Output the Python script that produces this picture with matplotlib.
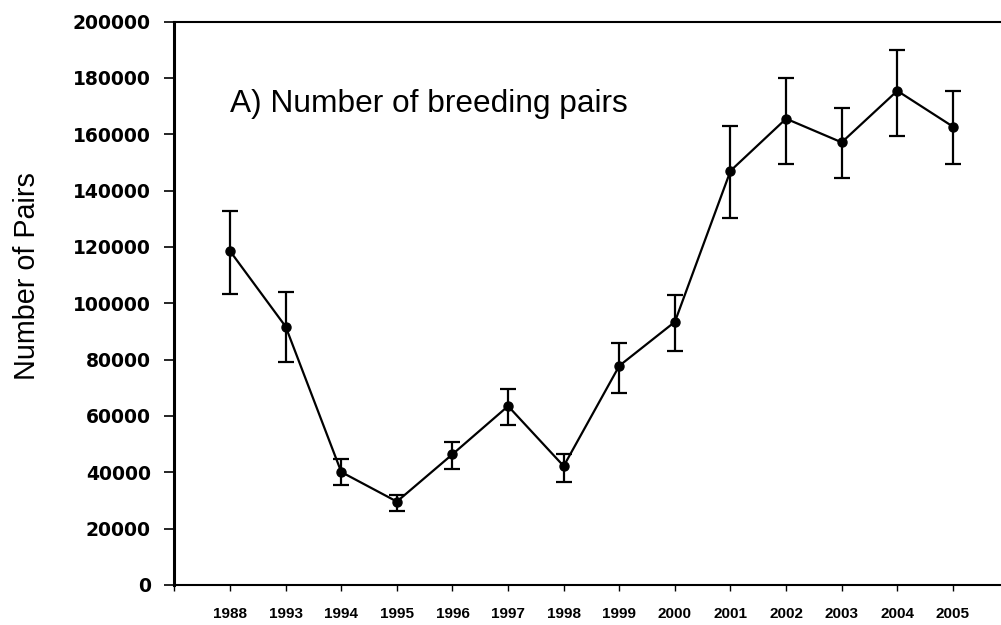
import matplotlib
matplotlib.use("Agg")
import matplotlib.pyplot as plt
import numpy as np

years = ["1988", "1993", "1994", "1995", "1996", "1997", "1998",
         "1999", "2000", "2001", "2002", "2003", "2004", "2005"]
pairs = [118500, 91700, 40100, 29600, 46400, 63500, 42200,
         77800, 93400, 147000, 165500, 157100, 175400, 162700]
upper = [132800, 104000, 44600, 31800, 50700, 69400, 46500,
         86000, 102900, 163000, 180000, 169300, 190000, 175300]
lower = [103200, 79200, 35400, 26300, 41000, 56700, 36600,
         68200, 83200, 130100, 149400, 144300, 159400, 149400]
yticks = [0, 20000, 40000, 60000, 80000, 100000, 120000,
          140000, 160000, 180000, 200000]

fig = plt.figure(figsize=(10.01, 6.25), dpi=100)
ax = fig.add_axes([0.1743, 0.064, 0.8332, 0.9016])

x = np.arange(1, len(years) + 1)
p = np.array(pairs)
yerr = np.vstack([p - np.array(lower), np.array(upper) - p])
ax.errorbar(x, p, yerr=yerr, color="black", lw=1.6, elinewidth=1.6,
            capsize=6, capthick=1.6, marker="o", markersize=6.5,
            markerfacecolor="black", markeredgecolor="black")

ax.set_xlim(0, 15)
ax.set_ylim(0, 200000)
ax.set_xticks(np.arange(0, 16))
ax.set_xticklabels([""] + years + [""])
ax.set_yticks(yticks)
ax.set_yticklabels([str(v) for v in yticks], fontfamily="DejaVu Sans",
                   fontweight="bold", fontsize=13.5)
for lab in ax.get_xticklabels():
    lab.set_fontfamily("Liberation Sans")
    lab.set_fontweight("bold")
    lab.set_fontsize(11)

ax.tick_params(axis="y", direction="out", length=7, width=1.2, pad=10)
ax.tick_params(axis="x", direction="out", length=4, width=1.0, pad=12)

for s in ax.spines.values():
    s.set_linewidth(1.5)
ax.spines["left"].set_linewidth(2.2)

ax.set_ylabel("Number of Pairs", fontfamily="Liberation Sans", fontsize=20.7)
ax.yaxis.set_label_coords(-0.1606, 0.548)

ax.text(0.0665, 0.839, "A) Number of breeding pairs", transform=ax.transAxes,
        fontfamily="Liberation Sans", fontsize=22.8, va="baseline", ha="left")

fig.savefig("out.png", dpi=100)
